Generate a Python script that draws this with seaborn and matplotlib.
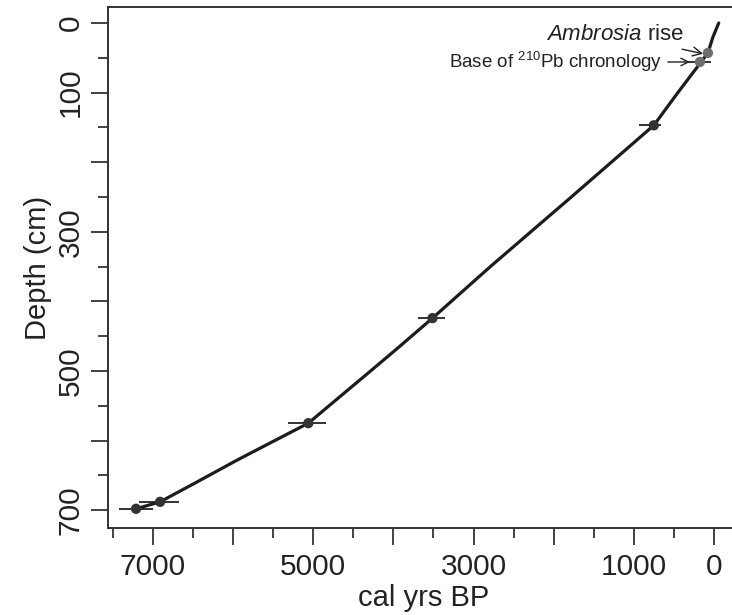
import numpy as np
import pandas as pd
import seaborn as sns
import matplotlib.pyplot as plt

# age-depth model line (cal yrs BP vs depth cm)
model_depth = [0, 20, 43, 56, 100, 147, 250, 350, 424, 465, 500, 540, 575, 605, 628, 660, 688, 698]
model_age = [-60, 12, 75, 160, 450, 750, 1780, 2790, 3512, 3925, 4285, 4700, 5062, 5565, 5950, 6460, 6912, 7212]

# dated levels with horizontal age ranges
date_depth = [43, 56, 147, 424, 575, 688, 698]
date_age = [75, 175, 750, 3512, 5062, 6912, 7212]
date_min = [12, 40, 660, 3360, 4837, 6675, 7000]
date_max = [137, 325, 940, 3690, 5312, 7175, 7425]
date_kind = ['marker', 'marker', 'c14', 'c14', 'c14', 'c14', 'c14']

sns.set_style('ticks')
plt.rcParams['font.family'] = ['Liberation Sans', 'DejaVu Sans']
plt.rcParams['mathtext.fontset'] = 'custom'
plt.rcParams['mathtext.rm'] = 'Liberation Sans'
plt.rcParams['mathtext.it'] = 'Liberation Sans:italic'

ink = '#222222'
model = pd.DataFrame({'age': model_age, 'depth': model_depth})
dates = pd.DataFrame({'age': date_age, 'depth': date_depth, 'lo': date_min,
                      'hi': date_max, 'kind': date_kind})

W, H = 732, 615
fig = plt.figure(figsize=(W / 100, H / 100), dpi=100)
# the plot box runs past the right edge of the picture, as in the original
ax = fig.add_axes([108 / W, 1 - 528 / H, (760 - 108) / W, (528 - 7) / H])

ax.hlines(dates['depth'], dates['lo'], dates['hi'], color='#333333', lw=1.4, zorder=2)
sns.lineplot(data=model, x='age', y='depth', sort=False, color='#1c1c1c', lw=2.3,
             ax=ax, zorder=3)
sns.scatterplot(data=dates, x='age', y='depth', hue='kind',
                palette={'marker': '#6e6e6e', 'c14': '#333333'}, s=55,
                marker='o', edgecolor='none', legend=False, ax=ax, zorder=4)

ax.set_xlim(7562, -575)
ax.set_ylim(725.6, -23)

ax.set_xticks(np.arange(0, 7001, 1000))
ax.set_xticklabels(['0', '1000', '', '3000', '', '5000', '', '7000'])
ax.set_xticks(np.arange(500, 7501, 1000), minor=True)
ax.set_yticks(np.arange(0, 701, 100))
ax.set_yticklabels(['0', '100', '', '300', '', '500', '', '700'],
                   rotation=90, va='center')
ax.set_yticks(np.arange(50, 701, 100), minor=True)

ax.tick_params(axis='both', which='major', length=12, width=1.3, color='#333333',
               labelsize=21.5, labelcolor=ink, pad=6)
ax.tick_params(axis='both', which='minor', length=7, width=1.3, color='#333333')
ax.tick_params(axis='y', which='major', pad=5)
for side in ['left', 'bottom', 'top']:
    ax.spines[side].set_color('#333333')
    ax.spines[side].set_linewidth(1.4)
ax.spines['right'].set_visible(False)

ax.set_xlabel('cal yrs BP', fontsize=21, color=ink)
ax.set_ylabel('Depth (cm)', fontsize=21, color=ink, labelpad=3)
ax.xaxis.set_label_coords((424 - 108) / (760 - 108), -0.108)

ax.annotate(r'$\mathit{Ambrosia}$ rise', xy=(100, 45), xytext=(370, 17),
            fontsize=16, color=ink, ha='right', va='center',
            arrowprops=dict(arrowstyle='->', color=ink, lw=1.0,
                            shrinkA=2, shrinkB=2))
ax.annotate(r'Base of $^{210}$Pb chronology', xy=(300, 56), xytext=(650, 56),
            fontsize=13.5, color=ink, ha='right', va='center',
            arrowprops=dict(arrowstyle='->', color=ink, lw=1.0,
                            shrinkA=2, shrinkB=0))

fig.savefig('out.png', dpi=100)
